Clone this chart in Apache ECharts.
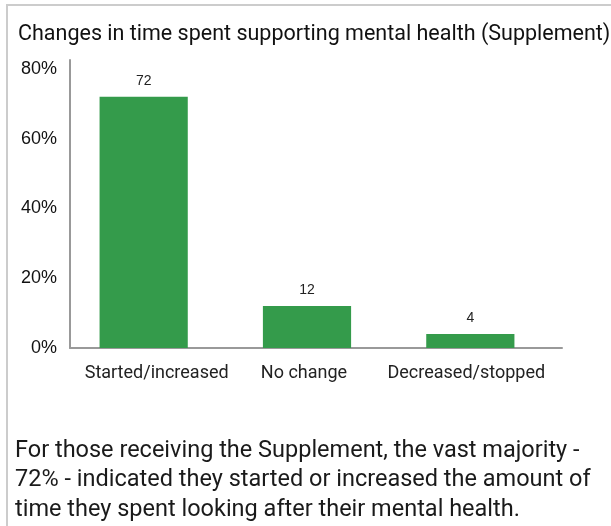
<!DOCTYPE html>
<html>
<head>
<meta charset="utf-8">
<style>
html,body{margin:0;padding:0;background:#fff;}
#c{width:611px;height:526px;}
</style>
<script src="https://cdn.jsdelivr.net/npm/echarts@6/dist/echarts.min.js"></script>
</head>
<body>
<div id="c"></div>
<script>
const categories = ['Started/increased', 'No change', 'Decreased/stopped'];
const values = [72, 12, 4];
const yTicks = [0, 20, 40, 60, 80];
const titleText = 'Changes in time spent supporting mental health (Supplement)';
const noteLines = [
  'For those receiving the Supplement, the vast majority -',
  '72% - indicated they started or increased the amount of',
  'time they spent looking after their mental health.'
];

const axisColor = '#999';
const labelPads = [[0, 0, 0, 26], [0, 6, 0, 0], [0, 8, 0, 0]];
const chart = echarts.init(document.getElementById('c'));
chart.setOption({
  backgroundColor: '#ffffff',
  animation: false,
  title: [{
    text: titleText,
    left: 13, top: 19,
    textStyle: {fontFamily: 'Roboto', fontSize: 21.5, fontWeight: 'normal', color: '#111'}
  }, {
    text: noteLines.join('\n'),
    left: 10, top: 431,
    textStyle: {fontFamily: 'Roboto', fontSize: 23.5, fontWeight: 'normal', color: '#1a1a1a', lineHeight: 29.5}
  }],
  graphic: [
    {type: 'rect', shape: {x: 6, y: 4, width: 611, height: 2}, style: {fill: '#cccccc'}},
    {type: 'rect', shape: {x: 6, y: 4, width: 2, height: 526}, style: {fill: '#cccccc'}}
  ],
  grid: [
    {left: 62, right: 59, top: 60, bottom: 178},
    {left: 70, right: 49, top: 60, bottom: 178}
  ],
  xAxis: [{
    type: 'category',
    gridIndex: 0,
    data: categories.map((c, i) => ({value: c, textStyle: {padding: labelPads[i]}})),
    axisLine: {show: false},
    axisTick: {show: false},
    axisLabel: {interval: 0, fontFamily: 'Roboto', fontSize: 18, color: '#222', margin: 16}
  }, {
    type: 'category',
    gridIndex: 1,
    data: categories,
    axisLine: {show: true, lineStyle: {color: axisColor, width: 2}},
    axisTick: {show: false},
    axisLabel: {show: false}
  }],
  yAxis: [{
    type: 'value',
    gridIndex: 0,
    min: 0, max: 82.5, interval: 20,
    axisLine: {show: false},
    axisTick: {show: false},
    splitLine: {show: false},
    axisLabel: {show: false}
  }, {
    type: 'value',
    gridIndex: 1,
    min: 0, max: 82.5, interval: 20,
    axisLine: {show: true, lineStyle: {color: axisColor, width: 2}},
    axisTick: {show: false},
    splitLine: {show: false},
    axisLabel: {
      showMaxLabel: false,
      fontFamily: 'Liberation Sans', fontSize: 18, color: '#111', margin: 13,
      formatter: v => yTicks.includes(v) ? v + '%' : ''
    }
  }],
  series: [{
    type: 'bar',
    xAxisIndex: 0, yAxisIndex: 0,
    data: values,
    barWidth: '54%',
    itemStyle: {color: '#349b4b'},
    label: {show: true, position: 'top', distance: 9, fontFamily: 'Liberation Sans', fontSize: 14, color: '#222'}
  }]
});
</script>
</body>
</html>
